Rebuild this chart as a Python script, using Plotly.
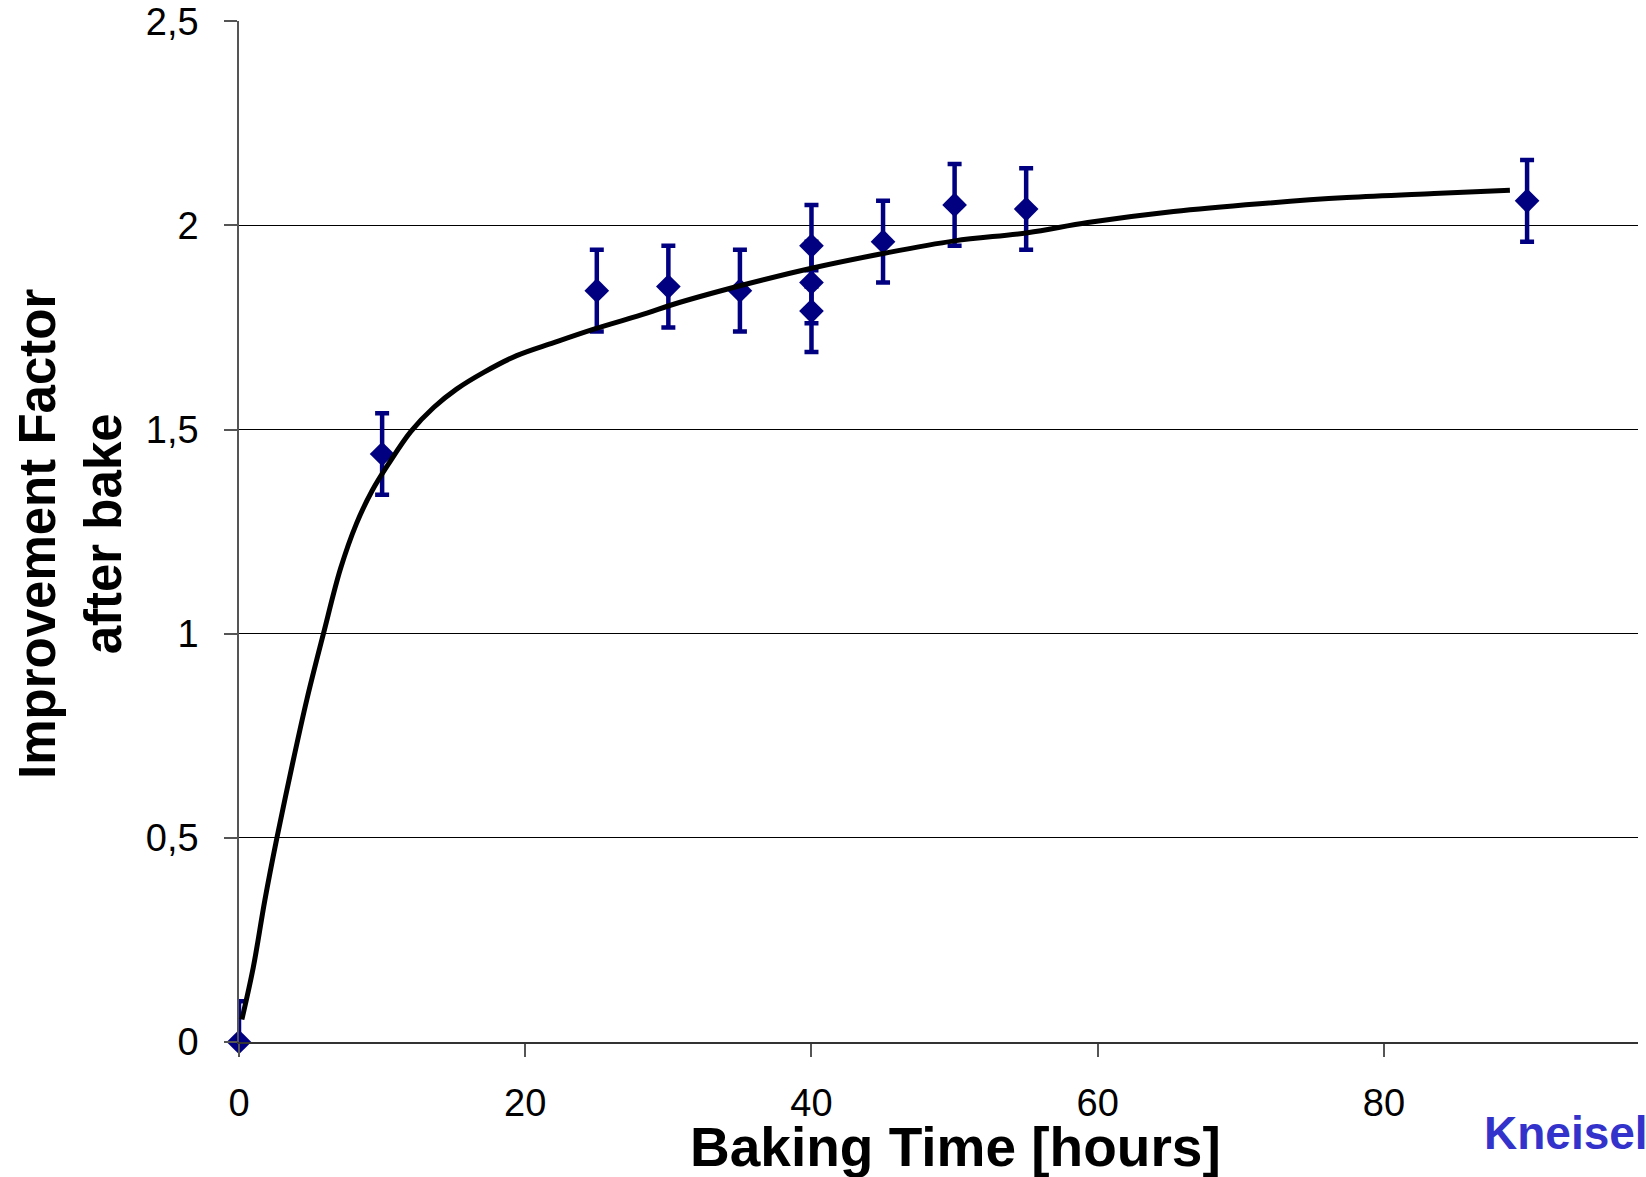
import plotly.graph_objects as go

# Measured improvement factor after baking, with +/- error
bake_hours = [0, 10, 25, 30, 35, 40, 40, 40, 45, 50, 55, 90]
improvement = [0.0, 1.44, 1.84, 1.85, 1.84, 1.95, 1.86, 1.79, 1.96, 2.05, 2.04, 2.06]
err_plus = [0.1, 0.1, 0.1, 0.1, 0.1, 0.1, 0.1, 0.1, 0.1, 0.1, 0.1, 0.1]
err_minus = [0.0, 0.1, 0.1, 0.1, 0.1, 0.1, 0.1, 0.1, 0.1, 0.1, 0.1, 0.1]

# Fitted trend line
fit_hours = [0.2, 1.0, 1.8, 2.65, 3.7, 4.75, 5.9, 7.1, 8.2, 9.3, 10.45, 12.0, 13.6,
             15.2, 17.1, 19.4, 22.0, 24.8, 28.5, 30.2, 35.0, 40.0, 45.0, 50.0,
             55.1, 59.3, 65.3, 71.3, 77.4, 83.5, 88.8]
fit_factor = [0.055, 0.183, 0.346, 0.50, 0.675, 0.840, 1.0, 1.16, 1.269, 1.350,
              1.416, 1.495, 1.554, 1.599, 1.640, 1.681, 1.713, 1.746, 1.785, 1.805,
              1.852, 1.895, 1.931, 1.962, 1.982, 2.007, 2.034, 2.053, 2.068, 2.078,
              2.086]

y_ticks = [0, 0.5, 1, 1.5, 2, 2.5]
x_ticks = [0, 20, 40, 60, 80]

FONT = "Liberation Sans, Arial, sans-serif"
NAVY = "#000080"

W, H = 1646, 1177
L, R, T, B = 239, 8, 21, 135

fig = go.Figure()

fig.add_trace(go.Scatter(
    x=bake_hours, y=improvement, mode="markers",
    marker=dict(symbol="diamond", size=19, color=NAVY, line=dict(width=0)),
    error_y=dict(type="data", symmetric=False, array=err_plus, arrayminus=err_minus,
                 color=NAVY, thickness=4.5, width=7),
    cliponaxis=False, showlegend=False,
))

fig.add_trace(go.Scatter(
    x=fit_hours, y=fit_factor, mode="lines",
    line=dict(color="black", width=5, shape="spline", smoothing=1.0),
    showlegend=False,
))

axis_font = dict(family=FONT, size=38, color="black")

fig.update_xaxes(
    range=[0, 97.75], tickvals=x_ticks, showgrid=False, zeroline=False,
    showline=True, linecolor="#333333", linewidth=2,
    ticks="outside", ticklen=13, tickcolor="#555555", tickwidth=1.5,
    tickfont=axis_font, ticklabelstandoff=13, automargin=False,
)
fig.update_yaxes(
    range=[0, 2.5005], tickvals=y_ticks, showgrid=True, gridcolor="black", gridwidth=1,
    zeroline=False, showline=True, linecolor="#555555", linewidth=1.5,
    ticks="outside", ticklen=13, tickcolor="#555555", tickwidth=1.5,
    tickfont=axis_font, ticklabelstandoff=18, automargin=False,
)

pw = W - L - R
ph = H - T - B


def px_to_paper(px, py):
    return (px - L) / pw, (H - B - py) / ph


ax, ay = px_to_paper(955, 1147)
yx, yy = px_to_paper(70, 534)
kx, ky = px_to_paper(1482, 1133)

fig.add_annotation(text="<b>Baking Time [hours]</b>", xref="paper", yref="paper",
                   x=ax, y=ay, xanchor="center", yanchor="middle", showarrow=False,
                   font=dict(family=FONT, size=55, color="black"))
fig.add_annotation(text="<b>Improvement Factor<br>after bake</b>", xref="paper", yref="paper",
                   x=yx, y=yy, xanchor="center", yanchor="middle", showarrow=False,
                   textangle=-90,
                   font=dict(family=FONT, size=51, color="black"))
fig.add_annotation(text="<b>Kneisel</b>", xref="paper", yref="paper",
                   x=kx, y=ky, xanchor="left", yanchor="middle", showarrow=False,
                   font=dict(family=FONT, size=46, color="#3333CC"))

fig.update_layout(
    width=W, height=H, margin=dict(l=L, r=R, t=T, b=B, autoexpand=False),
    paper_bgcolor="white", plot_bgcolor="white",
    separators=", ",
    font=dict(family=FONT, color="black"),
)

fig.write_html("out.html")
